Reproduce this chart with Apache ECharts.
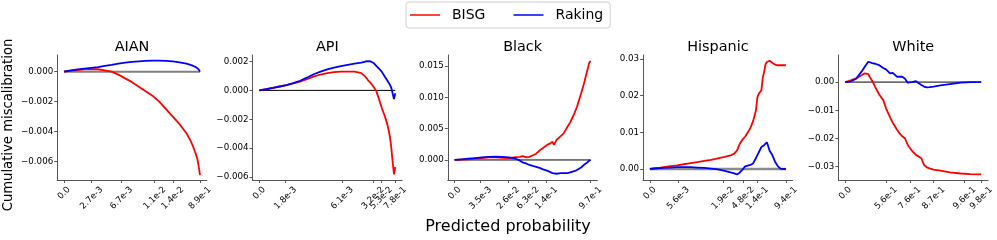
<!DOCTYPE html>
<html>
<head>
<meta charset="utf-8">
<script src="https://cdn.jsdelivr.net/npm/echarts@6/dist/echarts.min.js"></script>
<style>html,body{margin:0;padding:0;background:#fff;}#c{width:997px;height:240px;}</style>
</head>
<body>
<div id="c"></div>
<script>
// ---------- data ----------
const panels = ['AIAN', 'API', 'Black', 'Hispanic', 'White'];

// x positions (fraction of sorted sample) per panel
const xAIAN = [0, .05, .1, .15, .2, .25, .3, .35, .4, .45, .5, .55, .6, .65, .7, .75, .8, .85, .9, .93, .95, .97, .98, .99, 1.0];
const bisgAIAN = [0, 0.00005, 0.0001, 0.00015, 0.00017, 0.00016, 0.00008, 0.0, -0.0002, -0.00045, -0.0007, -0.001, -0.0013, -0.0016, -0.002, -0.0025, -0.003, -0.0035, -0.0041, -0.0046, -0.005, -0.0055, -0.0058, -0.0063, -0.0069];
const rakAIAN = [0, 0.00008, 0.00015, 0.0002, 0.00025, 0.0003, 0.00038, 0.00045, 0.00053, 0.0006, 0.00065, 0.00069, 0.00072, 0.00074, 0.00074, 0.00072, 0.00068, 0.00062, 0.00053, 0.00045, 0.00038, 0.0003, 0.00024, 0.00015, 0.0];

const xAPI = [0, .05, .1, .15, .2, .25, .3, .35, .4, .45, .5, .55, .6, .65, .7, .75, .78, .8, .82, .84, .86, .88, .9, .92, .94, .95, .96, .97, .98, .99, 1.0];
const bisgAPI = [0, 0.00008, 0.00017, 0.00027, 0.00036, 0.00048, 0.0006, 0.00077, 0.00095, 0.0011, 0.0012, 0.00126, 0.0013, 0.0013, 0.0013, 0.0012, 0.00095, 0.0007, 0.0005, 0.00025, -0.00005, -0.0006, -0.0012, -0.0017, -0.0023, -0.0027, -0.0032, -0.0039, -0.0049, -0.0058, -0.0053];
const rakAPI = [0, 0.00008, 0.00017, 0.00027, 0.00037, 0.0005, 0.00067, 0.00088, 0.00112, 0.0013, 0.00145, 0.00158, 0.00168, 0.00177, 0.00185, 0.00193, 0.002, 0.00202, 0.002, 0.0019, 0.0017, 0.0015, 0.0013, 0.001, 0.0007, 0.00055, 0.0004, 0.0002, -0.0002, -0.0006, -0.0002];

const xBlack = [0, .05, .1, .15, .2, .25, .3, .35, .4, .45, .48, .5, .53, .55, .58, .6, .63, .65, .68, .7, .72, .73, .75, .78, .8, .83, .85, .88, .9, .93, .95, .97, .99, 1.0];
const bisgBlack = [0, 0.00005, 0.0001, 0.0002, 0.0003, 0.0004, 0.0004, 0.00035, 0.0003, 0.00045, 0.0005, 0.0006, 0.0004, 0.0005, 0.0008, 0.001, 0.0016, 0.0019, 0.0024, 0.0026, 0.0029, 0.0024, 0.0032, 0.0038, 0.0042, 0.0053, 0.006, 0.0074, 0.0085, 0.0106, 0.0121, 0.0138, 0.0155, 0.0158];
const rakBlack = [0, 0.0001, 0.0002, 0.0003, 0.0004, 0.0005, 0.00053, 0.0005, 0.0004, 0.0002, -0.0001, -0.0004, -0.0006, -0.0008, -0.001, -0.0011, -0.0013, -0.0015, -0.0017, -0.0019, -0.0021, -0.0022, -0.0022, -0.0021, -0.0021, -0.0021, -0.002, -0.0018, -0.0016, -0.0012, -0.0008, -0.0005, -0.0001, 0];

const xHisp = [0, .05, .1, .15, .2, .25, .3, .35, .4, .45, .5, .55, .6, .62, .64, .66, .68, .7, .72, .74, .76, .78, .79, .8, .82, .83, .84, .85, .86, .87, .88, .9, .92, .94, .96, .98, 1.0];
const bisgHisp = [0, 0.0002, 0.0005, 0.0008, 0.001, 0.0013, 0.0016, 0.0019, 0.0022, 0.0025, 0.0029, 0.0033, 0.0038, 0.0042, 0.005, 0.0068, 0.008, 0.0088, 0.01, 0.0113, 0.0132, 0.016, 0.0195, 0.0205, 0.0215, 0.025, 0.0265, 0.0285, 0.0292, 0.0295, 0.0295, 0.029, 0.0285, 0.0283, 0.0283, 0.0283, 0.0283];
const rakHisp = [0, 0.0002, 0.0003, 0.0004, 0.0005, 0.0005, 0.0005, 0.0004, 0.0003, 0.0001, -0.0001, -0.0005, -0.001, -0.0012, -0.0015, -0.001, -0.0002, 0.0007, 0.0009, 0.0011, 0.0016, 0.003, 0.0038, 0.0045, 0.006, 0.0055, 0.0065, 0.007, 0.0073, 0.0062, 0.005, 0.0038, 0.002, 0.0008, 0.0001, 0, 0];

const xWhite = [0, .04, .08, .12, .145, .17, .18, .2, .22, .25, .28, .3, .33, .35, .38, .4, .42, .44, .46, .49, .52, .56, .58, .6, .62, .65, .7, .77, .85, .92, 1.0];
const bisgWhite = [0, 0.0006, 0.0013, 0.0024, 0.0031, 0.0028, 0.0019, 0.0003, -0.0017, -0.0044, -0.0064, -0.0093, -0.0125, -0.0144, -0.0168, -0.0182, -0.0192, -0.02, -0.0223, -0.0243, -0.0258, -0.027, -0.0294, -0.0302, -0.0306, -0.031, -0.0314, -0.032, -0.0324, -0.0326, -0.0327];
const rakWhite = [0, 0.0002, 0.0012, 0.0037, 0.0055, 0.0072, 0.0071, 0.0067, 0.0065, 0.006, 0.005, 0.0045, 0.0031, 0.0033, 0.0019, 0.0019, 0.0019, 0.0012, -0.0002, 0.0, 0.0003, -0.001, -0.0016, -0.0019, -0.0018, -0.0016, -0.0012, -0.0007, -0.0002, 0.0, 0];

// x tick positions and labels (predicted probability quantiles)
const xTickPos = [
  [0, .203, .423, .667, .80, 1],
  [0, .193, .61, .836, .897, 1],
  [0, .191, .394, .54, .675, 1],
  [0, .208, .538, .685, .79, 1],
  [0, .30, .475, .65, .878, 1]
];
const xTickLab = [
  ['0.0', '2.7e-3', '6.7e-3', '1.1e-2', '1.4e-2', '8.9e-1'],
  ['0.0', '1.8e-3', '6.1e-3', '3.2e-2', '5.3e-2', '7.8e-1'],
  ['0.0', '3.5e-3', '2.6e-2', '6.3e-2', '1.4e-1', '9.7e-1'],
  ['0.0', '5.6e-3', '1.9e-2', '4.8e-2', '1.4e-1', '9.4e-1'],
  ['0.0', '5.6e-1', '7.6e-1', '8.7e-1', '9.6e-1', '9.8e-1']
];
// y ticks
const yTicks = [
  [-0.006, -0.004, -0.002, 0],
  [-0.006, -0.004, -0.002, 0, 0.002],
  [0, 0.005, 0.010, 0.015],
  [0, 0.01, 0.02, 0.03],
  [-0.03, -0.02, -0.01, 0]
];
const yDecimals = [3, 3, 3, 2, 2];
const yRange = [[-0.00722, 0.00111], [-0.0062, 0.00245], [-0.0032, 0.01676], [-0.0030, 0.0311], [-0.0347, 0.0096]];

const xs = [xAIAN, xAPI, xBlack, xHisp, xWhite];
const bisg = [bisgAIAN, bisgAPI, bisgBlack, bisgHisp, bisgWhite];
const rak = [rakAIAN, rakAPI, rakBlack, rakHisp, rakWhite];

// ---------- layout / style ----------
const gridLefts = [57.2, 252.5, 447.8, 643.1, 838.4];
const gridW = 149.6, gridTop = 55, gridH = 125;
const zeroColor = ['#808080', '#000', '#000', '#8a8a8a', '#000'];
const zeroWidth = [2, 1, 1, 2.5, 1];
const spine = '#555';
const font = 'DejaVu Sans';

const grids = [], xAxes = [], yAxes = [], series = [], titles = [];
panels.forEach((name, i) => {
  grids.push({left: gridLefts[i], top: gridTop, width: gridW, height: gridH, containLabel: false, outerBoundsMode: 'none'});
  titles.push({text: name, left: gridLefts[i] + gridW / 2, top: 40, textAlign: 'center', padding: 0,
    textStyle: {fontSize: 14.4, fontWeight: 'normal', color: '#000', fontFamily: font}});
  xAxes.push({
    type: 'value', gridIndex: i, min: -0.05, max: 1.05,
    splitLine: {show: false},
    axisLine: {show: true, onZero: false, lineStyle: {color: spine, width: 1}},
    axisTick: {show: true, customValues: xTickPos[i], length: 3, lineStyle: {color: spine}},
    axisLabel: {
      customValues: xTickPos[i], rotate: 45, align: 'center', verticalAlign: 'middle', margin: 18,
      fontSize: 8.7, color: '#000', fontFamily: font,
      formatter: (v) => {
        const k = xTickPos[i].findIndex(p => Math.abs(p - v) < 1e-6);
        const t = k >= 0 ? xTickLab[i][k] : '';
        return k === 0 ? '{z|' + t + '}' : '{n|' + t + '}';
      },
      rich: {
        z: {fontSize: 8.7, color: '#000', fontFamily: font, padding: [0, 0, 7, 7]},
        n: {fontSize: 8.7, color: '#000', fontFamily: font}
      }
    }
  });
  yAxes.push({
    type: 'value', gridIndex: i, min: yRange[i][0], max: yRange[i][1],
    splitLine: {show: false},
    axisLine: {show: true, onZero: false, lineStyle: {color: spine, width: 1}},
    axisTick: {show: true, customValues: yTicks[i], length: 3, lineStyle: {color: spine}},
    axisLabel: {
      customValues: yTicks[i], fontSize: 8.7, color: '#000', margin: 4, fontFamily: font,
      formatter: (v) => (v < -1e-12 ? '\u2212' : '') + Math.abs(v).toFixed(yDecimals[i])
    }
  });
  series.push({
    type: 'line', xAxisIndex: i, yAxisIndex: i, symbol: 'none', silent: true,
    data: [[0, 0], [1, 0]], lineStyle: {color: zeroColor[i], width: zeroWidth[i]}, z: 1
  });
  series.push({
    name: 'BISG', type: 'line', xAxisIndex: i, yAxisIndex: i, symbol: 'none', color: '#ff0000',
    data: xs[i].map((x, j) => [x, bisg[i][j]]), lineStyle: {color: '#ff0000', width: 1.8}, z: 3
  });
  series.push({
    name: 'Raking', type: 'line', xAxisIndex: i, yAxisIndex: i, symbol: 'none', color: '#0000ff',
    data: xs[i].map((x, j) => [x, rak[i][j]]), lineStyle: {color: '#0000ff', width: 1.8}, z: 4
  });
});

titles.push({text: 'Predicted probability', left: 508, top: 219, textAlign: 'center', padding: 0,
  textStyle: {fontSize: 16, fontWeight: 'normal', color: '#000', fontFamily: font}});

const chart = echarts.init(document.getElementById('c'), null, {renderer: 'canvas'});
chart.setOption({
  animation: false,
  backgroundColor: '#fff',
  title: titles,
  graphic: [{
    type: 'text', x: 9, y: 125, rotation: Math.PI / 2,
    style: {text: 'Cumulative miscalibration', fontSize: 13.2, fontFamily: font, fill: '#000',
      align: 'center', verticalAlign: 'middle'}
  }],
  legend: {
    data: ['BISG', 'Raking'], left: 406, top: 2, icon: 'rect', itemWidth: 30, itemHeight: 1.5,
    itemGap: 28, borderColor: '#d0d0d0', borderWidth: 1, borderRadius: 3, padding: [6, 7, 6, 4],
    textStyle: {fontSize: 14, color: '#000', fontFamily: font, padding: [0, 0, 0, 7]}
  },
  grid: grids,
  xAxis: xAxes,
  yAxis: yAxes,
  series: series
});
</script>
</body>
</html>
